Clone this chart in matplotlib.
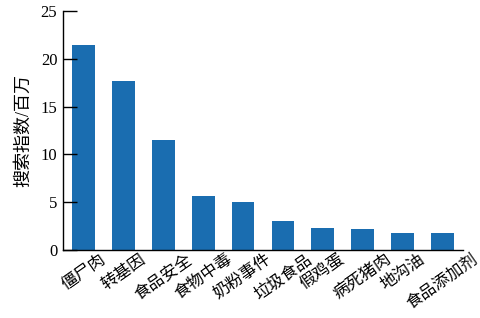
import matplotlib
matplotlib.use("Agg")
import matplotlib.pyplot as plt

plt.rcParams['font.family'] = ['Liberation Serif', 'Noto Sans CJK SC', 'DejaVu Sans']

categories = ['僵尸肉', '转基因', '食品安全', '食物中毒', '奶粉事件',
              '垃圾食品', '假鸡蛋', '病死猪肉', '地沟油', '食品添加剂']
values = [21.5, 17.7, 11.5, 5.6, 5.0, 3.0, 2.3, 2.15, 1.8, 1.8]
yticks = [0, 5, 10, 15, 20, 25]

fig = plt.figure(figsize=(4.8, 3.18), dpi=100)
ax = fig.add_axes([0.131, 0.214, 0.834, 0.751])

x = list(range(len(categories)))
ax.bar(x, values, width=0.57, color='#1a6db0')

ax.set_xlim(-0.52, 9.52)
ax.set_ylim(0, 25)
ax.set_yticks(yticks)
ax.set_xticks(x)
ax.set_xticklabels(categories, rotation=35, ha='center', fontsize=12)
ax.tick_params(axis='x', length=0, pad=1)
ax.tick_params(axis='y', direction='in', length=10, width=1, labelsize=12, pad=4)
ax.set_ylabel('搜索指数/百万', fontsize=13, labelpad=6)

ax.spines['top'].set_visible(False)
ax.spines['right'].set_visible(False)
ax.spines['left'].set_linewidth(1)
ax.spines['bottom'].set_linewidth(1)

fig.savefig('out.png', dpi=100)
